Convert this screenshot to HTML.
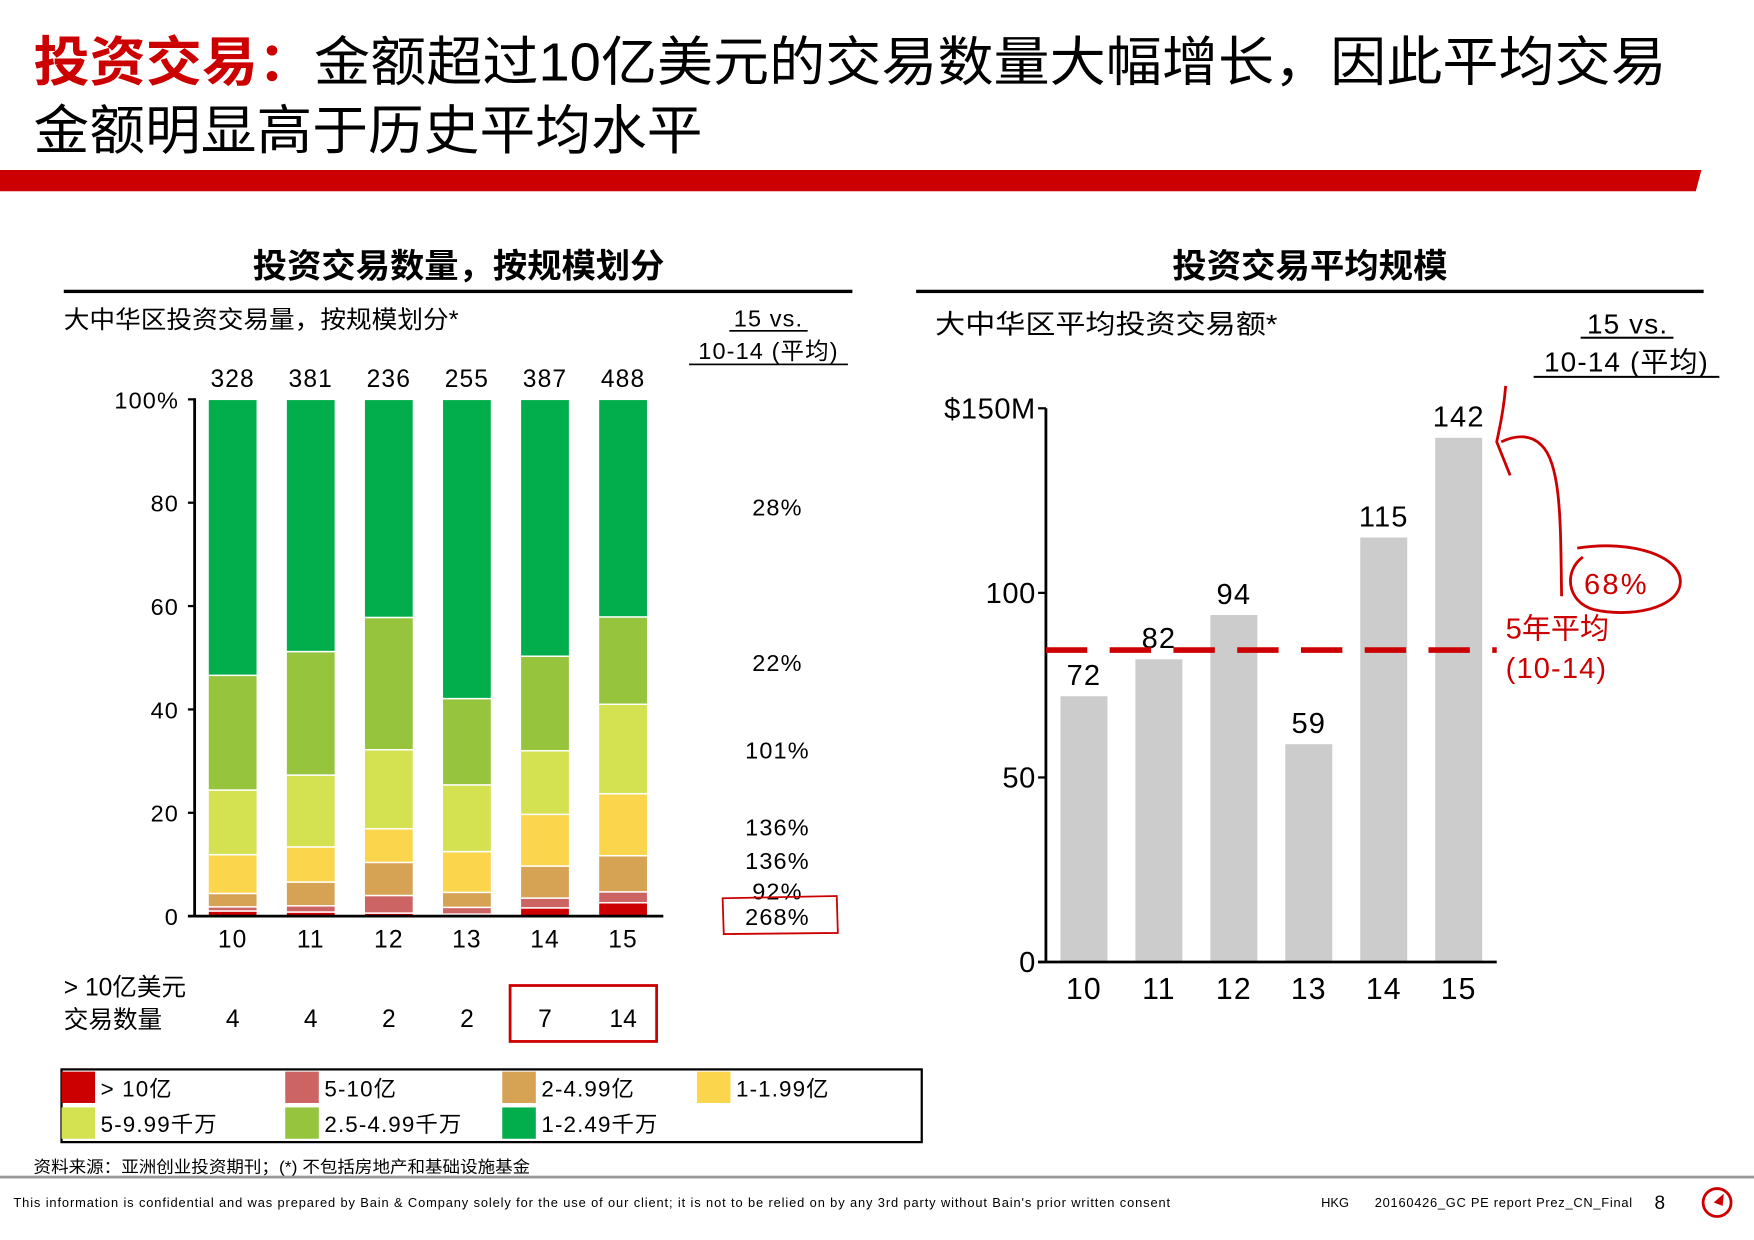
<!DOCTYPE html>
<html><head><meta charset="utf-8">
<style>
html,body{margin:0;padding:0;background:#fff;}
svg{display:block;}
text{font-family:"Liberation Sans","Noto Sans CJK SC",sans-serif;}
text:not([fill]){fill:#000;}
</style></head>
<body>
<svg id="page" width="1754" height="1240" viewBox="0 0 1568 1108.5" xmlns="http://www.w3.org/2000/svg">
  <!-- Title -->
  <text x="30" y="72" font-size="48" textLength="1460" lengthAdjust="spacingAndGlyphs"><tspan style="fill:#cc0000" font-weight="bold">投资交易：</tspan>金额超过10亿美元的交易数量大幅增长，因此平均交易</text>
  <text x="30" y="133" font-size="48" textLength="598" lengthAdjust="spacingAndGlyphs">金额明显高于历史平均水平</text>
  <polygon points="0,152 1521,152 1516,171 0,171" fill="#cc0000"/>

  <!-- Section headers -->
  <text x="410" y="248" font-size="30" font-weight="bold" text-anchor="middle" textLength="368" lengthAdjust="spacingAndGlyphs">投资交易数量，按规模划分</text>
  <rect x="57" y="259" width="705" height="3" fill="#000"/>
  <text x="1171" y="248" font-size="30" font-weight="bold" text-anchor="middle" textLength="246" lengthAdjust="spacingAndGlyphs">投资交易平均规模</text>
  <rect x="819" y="259" width="704" height="3" fill="#000"/>

  <text x="57" y="293" font-size="22" textLength="353" lengthAdjust="spacingAndGlyphs">大中华区投资交易量，按规模划分*</text>
  <text x="687" y="292" font-size="21" text-anchor="middle" letter-spacing="1">15 vs.</text>
  <rect x="652" y="295" width="70" height="1.5" fill="#000"/>
  <text x="687" y="321" font-size="21" text-anchor="middle" letter-spacing="1">10-14 (平均)</text>
  <rect x="616" y="325" width="142" height="1.5" fill="#000"/>

  <text x="836" y="298" font-size="24" textLength="306" lengthAdjust="spacingAndGlyphs">大中华区平均投资交易额*</text>
  <text x="1455" y="298" font-size="25" text-anchor="middle" letter-spacing="1">15 vs.</text>
  <rect x="1413" y="301" width="83" height="1.8" fill="#000"/>
  <text x="1454" y="332" font-size="25" text-anchor="middle" letter-spacing="1">10-14 (平均)</text>
  <rect x="1371" y="336" width="166" height="1.8" fill="#000"/>

  <g id="leftChart"></g>
  <g id="rightChart"></g>

  <!-- Legend -->
  <g id="legend">
    <rect x="55" y="956" width="769" height="65" fill="none" stroke="#000" stroke-width="2"/>
  </g>

  <!-- Source & footer -->
  <text x="30" y="1048" font-size="14.5" textLength="444" lengthAdjust="spacingAndGlyphs">资料来源：亚洲创业投资期刊；(*) 不包括房地产和基础设施基金</text>
  <rect x="0" y="1051" width="1568" height="2.5" fill="#999"/>
  <text x="12" y="1079" font-size="11.5" textLength="1034" lengthAdjust="spacing">This information is confidential and was prepared by Bain &amp; Company solely for the use of our client; it is not to be relied on by any 3rd party without Bain's prior written consent</text>
  <text x="1181" y="1079" font-size="11.5">HKG</text>
  <text x="1229" y="1079" font-size="11.5" textLength="230" lengthAdjust="spacing">20160426_GC PE report Prez_CN_Final</text>
  <text x="1479" y="1081" font-size="17">8</text>
  <g>
    <circle cx="1535" cy="1075" r="12.5" fill="none" stroke="#cc0000" stroke-width="2.5"/>
    <polygon points="1532,1075 1541,1067 1540,1078" fill="#cc0000"/>
  </g>
</svg>
<script>
// ---------- Left chart data ----------
const years = ["10","11","12","13","14","15"];
const totals = ["328","381","236","255","387","488"];
const segGt1b   = [1.0,0.8,0.6,0.4,1.6,2.6];
const seg500m1b = [0.8,1.2,3.4,1.3,1.9,2.1];
const seg200_499= [2.6,4.6,6.4,2.9,6.2,7.0];
const seg100_199= [7.5,6.8,6.5,7.9,10.0,12.0];
const seg50_99  = [12.5,13.9,15.3,12.9,12.3,17.3];
const seg25_49  = [22.2,23.9,25.6,16.7,18.3,16.9];
const seg10_24  = [53.4,48.8,42.2,57.9,49.7,42.1];
const pctTicks = [0,20,40,60,80,100];
const pctTickLabels = ["0","20","40","60","80","100%"];
const growthLabels = ["28%","22%","101%","136%","136%","92%","268%"];
const bigDeals = ["4","4","2","2","7","14"];
const legendLabels = ["> 10亿","5-10亿","2-4.99亿","1-1.99亿","5-9.99千万","2.5-4.99千万","1-2.49千万"];
// ---------- Right chart data ----------
const avgValues = [72,82,94,59,115,142];
const avgTicks = [0,50,100,150];
const avgTickLabels = ["0","50","100","$150M"];
const fiveYearAvg = 84.5;

const NS="http://www.w3.org/2000/svg";
function mk(tag, attrs, parent, txt){
  const e=document.createElementNS(NS,tag);
  for(const k in attrs) e.setAttribute(k,attrs[k]);
  if(txt!==undefined) e.textContent=txt;
  parent.appendChild(e); return e;
}
const segColors=["#cc0000","#cc6464","#d6a253","#fbd54b","#d4e150","#96c43c","#02ae4b"];
const segs=[segGt1b,seg500m1b,seg200_499,seg100_199,seg50_99,seg25_49,seg10_24];

// Left chart axes
const L={x0:174,yTop:357,yBot:819,first:208,step:69.8,bw:44};
const ly=v=>L.yBot-(v/100)*(L.yBot-L.yTop);
const lx=i=>L.first+i*L.step;
const lc=document.getElementById('leftChart');
years.forEach((yr,i)=>{
  let cum=0;
  segs.forEach((s,k)=>{
    const y1=ly(cum), y2=ly(cum+s[i]); cum+=s[i];
    const r=mk('rect',{x:lx(i)-L.bw/2,y:y2,width:L.bw,height:Math.max(0,y1-y2),fill:segColors[k],stroke:'#fff','stroke-width':1.3},lc);
    
    
  });
  const t=mk('text',{x:lx(i),y:346,'font-size':22,'text-anchor':'middle','letter-spacing':1},lc,totals[i]);
  
  
  const xl=mk('text',{x:lx(i),y:847,'font-size':22,'text-anchor':'middle','letter-spacing':1},lc,yr);
  
  
  const bd=mk('text',{x:lx(i),y:918,'font-size':22,'text-anchor':'middle'},lc,bigDeals[i]);
  
  
});
const yaxis=mk('line',{x1:L.x0,y1:L.yTop-1,x2:L.x0,y2:L.yBot,stroke:'#000','stroke-width':2.5},lc);


const xaxis=mk('line',{x1:L.x0-6,y1:L.yBot,x2:593,y2:L.yBot,stroke:'#000','stroke-width':2.5},lc);


pctTicks.forEach((v,i)=>{
  mk('line',{x1:L.x0-6,y1:ly(v),x2:L.x0,y2:ly(v),stroke:'#000','stroke-width':2},lc);
  const t=mk('text',{x:160,y:ly(v)+8,'font-size':21,'text-anchor':'end','letter-spacing':1},lc,pctTickLabels[i]);
  
  
});
const growthY=[461,600,678,747,777,804,827];
growthLabels.forEach((g,i)=>{
  const t=mk('text',{x:695,y:growthY[i],'font-size':21,'text-anchor':'middle','letter-spacing':1},lc,g);
  
  
});
const hb=mk('path',{d:'M646,803 L748,801 L749,834 L647,835 Z',fill:'none',stroke:'#cc0000','stroke-width':1.6},lc);


const b1=mk('text',{x:57,y:890,'font-size':22},lc,'> 10亿美元');


const b2=mk('text',{x:57,y:919,'font-size':22},lc,'交易数量');


const rb=mk('rect',{x:456,y:881,width:131,height:50,fill:'none',stroke:'#cc0000','stroke-width':2.5},lc);



// Legend
const lg=document.getElementById('legend');
const lgPos=[[55,958],[255,958],[449,958],[623,958],[55,990],[255,990],[449,990]];
legendLabels.forEach((lab,i)=>{
  const [x,y]=lgPos[i];
  const s=mk('rect',{x:x,y:y,width:30,height:28,fill:segColors[i]},lg);
  
  
  const t=mk('text',{x:x+35,y:y+22,'font-size':20,'letter-spacing':1},lg,lab);
  
  
});

// Right chart
const R={x0:935,yTop:365,yBot:860,first:969,step:67,bw:42};
const ry=v=>R.yBot-(v/150)*(R.yBot-R.yTop);
const rx=i=>R.first+i*R.step;
const rc=document.getElementById('rightChart');
avgValues.forEach((v,i)=>{
  const r=mk('rect',{x:rx(i)-R.bw/2,y:ry(v),width:R.bw,height:R.yBot-ry(v),fill:'#cccccc'},rc);
  
  
  const t=mk('text',{x:rx(i),y:ry(v)-10,'font-size':26,'text-anchor':'middle','letter-spacing':1},rc,String(v));
  
  
  const xl=mk('text',{x:rx(i),y:893,'font-size':27,'text-anchor':'middle','letter-spacing':1},rc,years[i]);
  
  
});
const ryax=mk('line',{x1:R.x0,y1:R.yTop,x2:R.x0,y2:R.yBot,stroke:'#000','stroke-width':2.5},rc);


const rxax=mk('line',{x1:R.x0-7,y1:R.yBot,x2:1338,y2:R.yBot,stroke:'#000','stroke-width':2.5},rc);


avgTicks.forEach((v,i)=>{
  mk('line',{x1:R.x0-7,y1:ry(v),x2:R.x0,y2:ry(v),stroke:'#000','stroke-width':2},rc);
  const t=mk('text',{x:926,y:ry(v)+9,'font-size':26,'text-anchor':'end','letter-spacing':0.5},rc,avgTickLabels[i]);
  
  
});
const avgLine=mk('line',{x1:R.x0,y1:ry(fiveYearAvg),x2:1338,y2:ry(fiveYearAvg),stroke:'#cc0000','stroke-width':5,'stroke-dasharray':'37,20'},rc);


const a1=mk('text',{x:1346,y:571,'font-size':26,fill:'#cc0000'},rc,'5年平均');


const a2=mk('text',{x:1346,y:606,'font-size':26,fill:'#cc0000','letter-spacing':1},rc,'(10-14)');


const arrow=mk('path',{d:'M1396,533 C1395,470 1396,415 1378,398 C1368,388 1355,389 1342,395 M1346,345 C1344,370 1340,385 1338,395 C1342,405 1346,415 1350,425',fill:'none',stroke:'#cc0000','stroke-width':2.5},rc);


const el=mk('path',{d:'M1410,490 C1460,482 1505,498 1502,522 C1499,545 1455,552 1425,545 C1400,538 1398,510 1415,498',fill:'none',stroke:'#cc0000','stroke-width':2.5},rc);


const g68=mk('text',{x:1445,y:531,'font-size':26,fill:'#cc0000','text-anchor':'middle','letter-spacing':2},rc,'68%');


</script>
</body></html>
